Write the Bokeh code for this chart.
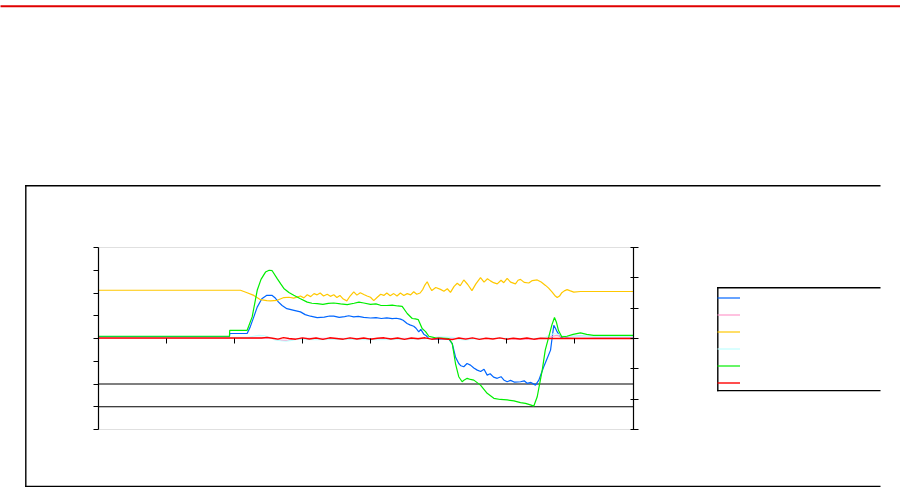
from bokeh.plotting import figure
from bokeh.models import (Range1d, LinearAxis, SingleIntervalTicker, Legend, LegendItem,
                          BoxAnnotation, CustomJSTickFormatter)
from bokeh.embed import file_html
from bokeh.resources import INLINE

# ---------------- data (time in s, values in axis units) ----------------
blue_t = [0, 96.3, 96.5, 109.3, 111.5, 114.2, 116.7, 120.1, 123.8, 127.5, 130.0, 132.4, 135.0, 138.5,
          143.0, 148.5, 152.0, 155.9, 160.8, 166.0, 170.0, 173.0, 177.0, 181.0, 184.0, 187.7, 191.0,
          195.0, 200.0, 204.0, 208.0, 212.0, 216.0, 219.0, 222.1, 224.0, 226.9, 229.0, 231.8, 233.5,
          235.5, 237.0, 239.2, 241.0, 242.9, 246.0, 250.0, 254.0, 257.6, 260.1, 262.5, 264.9, 266.5,
          268.6, 271.0, 273.5, 276.0, 278.5, 281.0, 283.5, 285.8, 288.0, 290.5, 293.2, 296.0, 298.0,
          300.5, 303.0, 306.0, 310.3, 313.0, 315.2, 318.0, 321.3, 323.8, 325.5, 327.4, 329.9, 332.4,
          333.5, 334.8, 336.0, 337.3, 339.7, 342.2, 346.0, 354.4, 365.0, 393.4]
blue_v = [0.08, 0.08, 0.22, 0.22, 0.50, 0.95, 1.38, 1.75, 1.90, 1.90, 1.78, 1.60, 1.45, 1.31,
          1.25, 1.17, 1.05, 0.98, 0.92, 0.94, 0.99, 0.98, 0.93, 0.96, 1.00, 0.95, 0.97,
          0.93, 0.90, 0.92, 0.88, 0.91, 0.87, 0.89, 0.85, 0.80, 0.66, 0.60, 0.54, 0.45,
          0.29, 0.40, 0.19, 0.12, 0.00, -0.02, -0.03, -0.01, -0.03, -0.22, -0.81, -1.10, -1.20,
          -1.24, -1.10, -1.17, -1.30, -1.39, -1.45, -1.35, -1.61, -1.55, -1.70, -1.75, -1.68, -1.82,
          -1.90, -1.84, -1.92, -1.90, -1.86, -1.97, -1.93, -2.05, -1.83, -1.55, -1.24, -0.88, -0.51,
          0.00, 0.58, 0.45, 0.29, 0.07, 0.00, 0.08, 0.10, 0.08, 0.08]

pink_t = [0, 120, 128, 132, 136, 140, 145, 150, 200, 250, 300, 310, 315, 320, 325, 330, 334, 337,
          340, 345, 350, 393.4]
pink_v = [0.02, 0.02, 0.00, -0.06, -0.08, -0.07, -0.02, 0.01, 0.00, 0.01, 0.00, -0.03, -0.02, -0.04,
          0.00, 0.02, 0.10, 0.14, 0.08, 0.06, 0.07, 0.07]

yellow_t = [0, 104.4, 109.3, 114.2, 119.1, 123.8, 126.5, 131.4, 136.3, 140.0, 143.6, 148.5, 151.0,
            153.5, 156.0, 158.5, 160.8, 163.0, 165.5, 168.2, 170.5, 173.0, 175.3, 177.5, 180.0,
            182.6, 185.0, 187.7, 190.0, 192.5, 195.1, 197.5, 200.0, 202.4, 205.0, 207.5, 209.8,
            212.0, 214.5, 217.1, 219.5, 222.0, 224.5, 227.0, 229.5, 231.8, 234.0, 236.5, 238.5,
            240.0, 241.7, 243.5, 245.1, 248.0, 251.5, 254.0, 256.5, 258.8, 261.5, 263.8, 266.0,
            268.6, 271.5, 274.6, 277.5, 280.9, 283.5, 286.0, 288.2, 290.5, 293.2, 296.0, 298.0,
            300.5, 303.0, 306.6, 308.5, 310.3, 313.0, 316.4, 319.0, 322.6, 325.5, 328.7, 331.0,
            333.6, 335.5, 337.3, 339.0, 340.7, 342.5, 344.6, 347.0, 349.5, 354.4, 393.4]
yellow_v = [1.59, 1.59, 1.51, 1.42, 1.28, 1.25, 1.24, 1.26, 1.35, 1.36, 1.33, 1.40, 1.34,
            1.44, 1.38, 1.48, 1.44, 1.50, 1.40, 1.46, 1.39, 1.44, 1.35, 1.42, 1.30,
            1.24, 1.40, 1.54, 1.43, 1.51, 1.45, 1.40, 1.36, 1.25, 1.36, 1.46, 1.42,
            1.50, 1.41, 1.48, 1.40, 1.50, 1.42, 1.48, 1.44, 1.54, 1.46, 1.50, 1.62,
            1.76, 1.87, 1.70, 1.58, 1.68, 1.62, 1.56, 1.64, 1.52, 1.72, 1.82, 1.74,
            1.93, 1.78, 1.58, 1.80, 2.01, 1.86, 1.97, 1.90, 1.84, 1.80, 1.92, 1.84,
            1.98, 1.86, 1.80, 1.92, 1.95, 1.85, 1.83, 1.91, 1.93, 1.86, 1.75, 1.66,
            1.53, 1.42, 1.35, 1.40, 1.51, 1.57, 1.61, 1.57, 1.53, 1.55, 1.55]

cyan_t = [0, 110, 114, 118, 122, 126, 130, 134, 138, 142, 146, 150, 160, 180, 200, 220, 240, 245,
          250, 255, 260, 265, 270, 275, 280, 300, 320, 328, 332, 335, 338, 341, 345, 350, 393.4]
cyan_v = [0.05, 0.05, 0.10, 0.14, 0.12, 0.04, -0.06, -0.10, -0.12, -0.08, -0.03, -0.04, -0.05, -0.03,
          -0.05, -0.04, -0.02, 0.02, 0.07, 0.06, 0.05, -0.04, -0.06, -0.03, 0.00, 0.01, 0.00, 0.03,
          0.15, 0.22, 0.18, 0.12, 0.09, 0.10, 0.09]

green_t = [0, 96.3, 96.5, 109.3, 113.0, 116.7, 119.5, 122.8, 125.5, 127.7, 131.4, 134.0, 136.3, 140.0,
           143.6, 148.5, 153.5, 157.0, 160.8, 165.0, 169.0, 173.0, 178.0, 182.9, 188.0, 191.5, 195.1,
           200.0, 204.0, 207.4, 212.0, 216.0, 220.0, 223.3, 227.0, 230.7, 233.0, 235.1, 238.0, 240.5,
           242.9, 247.8, 252.0, 257.6, 260.1, 262.5, 264.9, 267.4, 269.0, 271.1, 273.5, 276.0, 280.9,
           285.8, 290.7, 295.5, 300.5, 305.5, 310.3, 314.0, 317.6, 320.1, 322.6, 326.3, 328.5, 331.1,
           333.4, 335.3, 336.8, 338.2, 340.7, 344.4, 349.0, 354.4, 359.0, 364.0, 370.0, 383.8, 393.4]
green_v = [0.10, 0.10, 0.36, 0.36, 0.95, 2.12, 2.60, 2.92, 3.00, 2.98, 2.63, 2.40, 2.20, 2.02,
           1.90, 1.75, 1.60, 1.55, 1.53, 1.50, 1.54, 1.56, 1.52, 1.49, 1.55, 1.60, 1.56,
           1.50, 1.52, 1.46, 1.45, 1.47, 1.43, 1.41, 1.10, 0.88, 0.86, 0.83, 0.44, 0.30,
           0.10, 0.03, 0.02, 0.00, -0.22, -1.10, -1.68, -1.90, -1.82, -1.75, -1.80, -1.83, -2.05,
           -2.41, -2.63, -2.68, -2.70, -2.74, -2.82, -2.85, -2.92, -2.97, -2.56, -1.39, -0.51, 0.07,
           0.60, 0.92, 0.70, 0.36, 0.07, 0.10, 0.18, 0.25, 0.18, 0.14, 0.14, 0.14, 0.14]

red_t = [0, 120, 124, 128, 132, 136, 140, 145, 150, 155, 160, 165, 170, 175, 180, 185, 190, 195, 200,
         205, 210, 215, 220, 225, 230, 235, 240, 245, 250, 255, 260, 265, 270, 275, 280, 285, 290,
         295, 300, 305, 310, 315, 320, 325, 330, 393.4]
red_v = [0.02, 0.02, 0.05, 0.01, -0.03, 0.04, 0.00, -0.03, 0.03, -0.02, 0.02, -0.04, 0.03, 0.00,
         -0.03, 0.03, -0.02, 0.02, -0.03, 0.01, 0.03, -0.02, 0.02, -0.04, 0.02, -0.01, 0.03, -0.03,
         0.01, -0.02, -0.05, 0.02, -0.03, 0.03, -0.04, 0.01, -0.02, 0.03, -0.03, 0.01, -0.02, 0.02,
         -0.03, 0.01, 0.00, 0.00]

for a, b in [(blue_t, blue_v), (pink_t, pink_v), (yellow_t, yellow_v), (cyan_t, cyan_v),
             (green_t, green_v), (red_t, red_v)]:
    assert len(a) == len(b), (len(a), len(b))

t_span = (0, 393.4)          # time axis extent
x_tick_step = 50
left_span = (-4, 4)          # left value axis
right_span = (-3, 3)         # right value axis
limit_lines = [-3, -2]       # horizontal limit lines (left axis units)

# ---------------- layout (pixels on the 900 x 491 canvas) ----------------
W, H = 900, 491
PL, PR, PT, PB = 98, 633, 247, 429          # plot area edges


def extend(lo, hi, p_lo, p_hi, size, flip=False):
    """data range covering the whole canvas so that lo..hi lands on p_lo..p_hi px."""
    upp = (hi - lo) / abs(p_hi - p_lo)
    if not flip:
        return lo - p_lo * upp, hi + (size - p_hi) * upp
    return lo - (size - p_lo) * upp, hi + p_hi * upp


x0, x1 = extend(t_span[0], t_span[1], PL, PR, W)
y0, y1 = extend(left_span[0], left_span[1], PB, PT, H, flip=True)
r0, r1 = extend(right_span[0], right_span[1], PB, PT, H, flip=True)


def px_x(px):
    return x0 + px / W * (x1 - x0)


def px_y(py):
    return y1 - py / H * (y1 - y0)


p = figure(width=W, height=H, title=None, x_range=Range1d(x0, x1), y_range=Range1d(y0, y1),
           output_backend="svg", toolbar_location=None,
           x_axis_location=None, y_axis_location=None, min_border=0)
p.background_fill_color = "white"
p.border_fill_color = "white"
p.outline_line_color = None
for g in p.grid:
    g.visible = False

p.extra_y_ranges = {"r": Range1d(r0, r1)}

blank = CustomJSTickFormatter(code="return ''")
axis_style = dict(formatter=blank, minor_tick_line_color=None, major_label_text_font_size="1px",
                  major_tick_line_color="black")

# plot-area border (grey top / bottom)
p.add_layout(BoxAnnotation(left=t_span[0], right=t_span[1], top=left_span[1], bottom=left_span[0],
                           fill_alpha=0, line_color="#999999", line_width=1, level="underlay"))

# horizontal limit lines
p.segment(x0=[t_span[0]] * len(limit_lines), x1=[t_span[1]] * len(limit_lines),
          y0=limit_lines, y1=limit_lines, line_color="black", line_width=1.2)

r_blue = p.line(blue_t, blue_v, line_color="#0066FF", line_width=1.2)
r_pink = p.line(pink_t, pink_v, line_color="#FF99CC", line_width=1.2)
r_yellow = p.line(yellow_t, yellow_v, line_color="#FFC800", line_width=1.2, y_range_name="r")
r_cyan = p.line(cyan_t, cyan_v, line_color="#BFFFFF", line_width=1.2)
r_green = p.line(green_t, green_v, line_color="#00EE00", line_width=1.2)
r_red = p.line(red_t, red_v, line_color="#FF0000", line_width=1.4)

xax = LinearAxis(ticker=SingleIntervalTicker(interval=x_tick_step, num_minor_ticks=0),
                 fixed_location=0, bounds=t_span, axis_line_color=None,
                 major_tick_out=5, major_tick_in=0, **axis_style)
p.add_layout(xax, "below")

yax = LinearAxis(ticker=SingleIntervalTicker(interval=1, num_minor_ticks=0),
                 fixed_location=t_span[0], bounds=left_span,
                 major_tick_out=5, major_tick_in=0,
                 axis_line_color="black", axis_line_width=1.2, **axis_style)
p.add_layout(yax, "left")

rax = LinearAxis(y_range_name="r", ticker=SingleIntervalTicker(interval=1, num_minor_ticks=0),
                 fixed_location=t_span[1], bounds=right_span,
                 major_tick_out=5, major_tick_in=3,
                 axis_line_color="black", axis_line_width=1.2, **axis_style)
p.add_layout(rax, "right")

legend = Legend(items=[LegendItem(label="\u00a0", renderers=[r]) for r in
                       [r_blue, r_pink, r_yellow, r_cyan, r_green, r_red]],
                location=(717, H - 391), orientation="vertical",
                border_line_color=None, background_fill_alpha=0,
                padding=1, spacing=0, margin=0,
                glyph_width=23, glyph_height=17, label_height=17,
                label_width=170, label_standoff=7, label_text_font_size="9px")
p.add_layout(legend, "center")


def px_box(l, r, t, b, color, level="overlay"):
    return BoxAnnotation(left=px_x(l), right=px_x(r), top=px_y(t), bottom=px_y(b),
                         fill_color=color, fill_alpha=1, line_color=None, level=level)


# chart-area frame and legend box (both cut at the right like the reference), red rule at top
p.add_layout(px_box(24.6, 880, 184.6, 186, "black"))
p.add_layout(px_box(24.6, 26, 184.6, 486.6, "black"))
p.add_layout(px_box(24.6, 880, 485.2, 486.6, "black"))
p.add_layout(px_box(716.6, 880, 286.6, 288, "black"))
p.add_layout(px_box(716.6, 718, 286.6, 390.8, "black"))
p.add_layout(px_box(716.6, 880, 389.4, 390.8, "black"))
p.add_layout(px_box(-10, 910, 4.7, 6.7, "#E00000"))

open("out.html", "w").write(file_html(p, INLINE))
